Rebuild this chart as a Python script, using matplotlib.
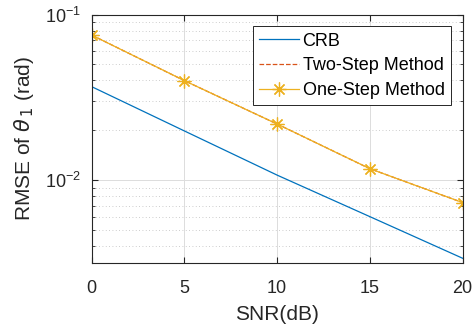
import matplotlib
matplotlib.use("Agg")
import matplotlib.pyplot as plt
from matplotlib.ticker import LogLocator, NullFormatter

# values
snr = [0, 5, 10, 15, 20]
crb = [0.0367, 0.0198, 0.0107, 0.0060, 0.00336]
two_step = [0.0753, 0.0399, 0.0218, 0.0117, 0.0073]
one_step = [0.0753, 0.0399, 0.0218, 0.0117, 0.0073]
xticks = [0, 5, 10, 15, 20]

plt.rcParams['font.family'] = ['Liberation Sans', 'DejaVu Sans']
plt.rcParams['mathtext.fontset'] = 'dejavusans'

fig = plt.figure(figsize=(4.75, 3.27), dpi=100)
ax = fig.add_axes([0.193, 0.196, 0.781, 0.759])

ax.plot(snr, crb, color='#0072BD', lw=0.9, label='CRB')
ax.plot(snr, two_step, color='#D95319', lw=0.9, ls='--', label='Two-Step Method')
ax.plot(snr, one_step, color='#EDB120', lw=0.9, marker=(8, 2, 0), ms=10, mew=0.9,
        label='One-Step Method')

ax.set_yscale('log')
ax.set_xlim(0, 20)
ax.set_ylim(0.00315, 0.1)
ax.set_xticks(xticks)
ax.yaxis.set_major_locator(LogLocator(base=10))
ax.yaxis.set_minor_locator(LogLocator(base=10, subs=range(2, 10)))
ax.yaxis.set_minor_formatter(NullFormatter())

ax.grid(True, which='major', color='#dcdcdc', lw=0.7, ls='-')
ax.grid(True, which='minor', axis='y', color='#bdbdbd', lw=0.6, ls=(0, (1, 3)))
ax.set_axisbelow(True)

ax.tick_params(which='both', direction='in', top=True, right=True,
               labelsize=13, colors='#262626')
ax.tick_params(axis='x', pad=12)
ax.tick_params(axis='y', pad=8)
ax.tick_params(which='major', length=4)
ax.tick_params(which='minor', length=2)
for s in ax.spines.values():
    s.set_color('#262626')
    s.set_linewidth(0.8)

ax.set_xlabel('SNR(dB)', fontsize=15, color='#262626', labelpad=6)
ax.set_ylabel(r'RMSE of $\theta_{\,1}$ (rad)', fontsize=15, color='#262626', labelpad=6)

leg = ax.legend(loc='upper right', fontsize=13, fancybox=False, edgecolor='#262626',
                framealpha=1, handlelength=2.2, borderpad=0.35, labelspacing=0.42,
                handletextpad=0.2, borderaxespad=0.65)
leg.get_frame().set_linewidth(0.7)

fig.savefig('out.png', dpi=100)
